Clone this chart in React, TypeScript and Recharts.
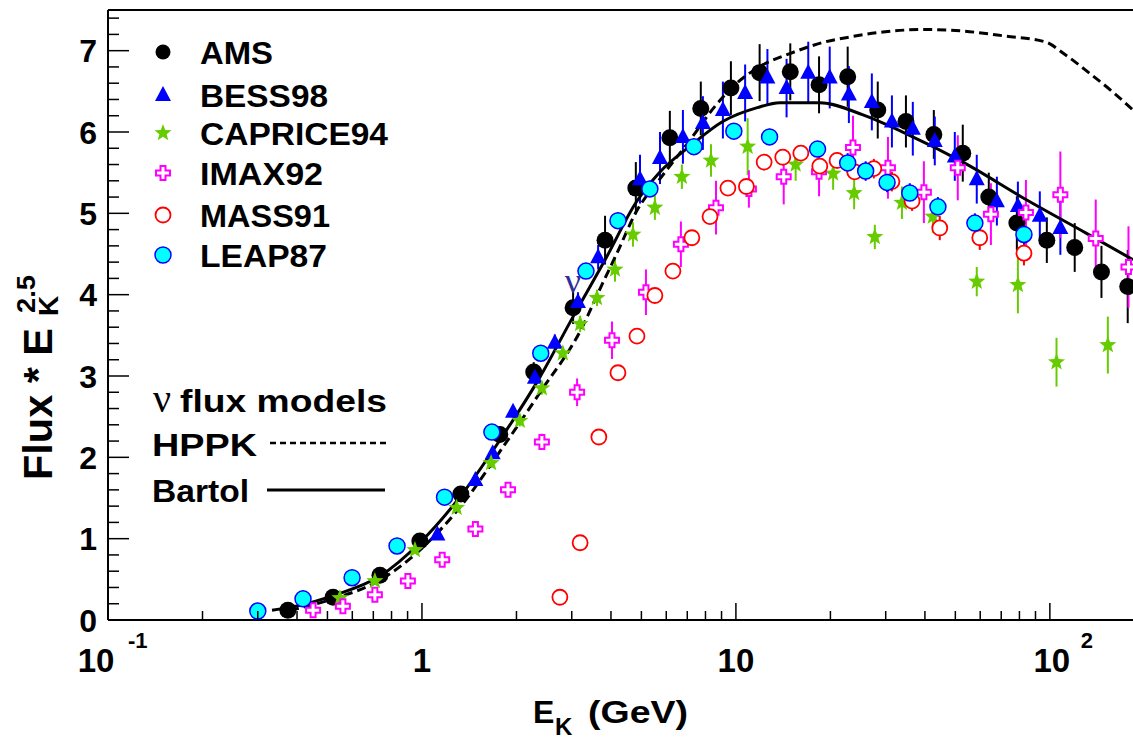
import { ComposedChart, Scatter, Line, XAxis, YAxis, ErrorBar, ReferenceLine } from 'recharts'

// kinetic energy (GeV) and flux * E^2.5 for each experiment
const AMS_E = [0.374, 0.521, 0.735, 0.985, 1.33, 1.77, 2.27, 3.03, 3.83, 4.8, 6.16, 7.73, 9.64, 11.9, 14.9, 18.4, 22.7, 28.3, 34.8, 42.7, 52.8, 63.9, 78.5, 97.8, 120, 146, 177]
const AMS_F = [0.12, 0.28, 0.55, 0.97, 1.55, 2.28, 3.05, 3.84, 4.67, 5.31, 5.93, 6.29, 6.54, 6.73, 6.74, 6.58, 6.68, 6.27, 6.13, 5.97, 5.74, 5.2, 4.88, 4.67, 4.58, 4.28, 4.1]
const AMS_ERR = [0.03, 0.04, 0.05, 0.06, 0.08, 0.1, 0.12, 0.2, 0.3, 0.32, 0.33, 0.33, 0.33, 0.35, 0.35, 0.35, 0.37, 0.35, 0.32, 0.3, 0.35, 0.3, 0.33, 0.28, 0.3, 0.32, 0.45]

const BESS_E = [1.12, 1.48, 1.68, 1.95, 2.29, 2.65, 3.14, 3.64, 4.95, 5.73, 6.78, 7.85, 9.09, 10.7, 12.6, 14.5, 17.0, 19.9, 22.9, 27.1, 31.4, 36.6, 43.0, 49.8, 58.5, 67.8, 79.1, 92.9, 108]
const BESS_F = [1.05, 1.72, 2.05, 2.56, 2.98, 3.41, 3.91, 4.46, 5.42, 5.68, 5.94, 6.11, 6.27, 6.48, 6.67, 6.54, 6.73, 6.67, 6.46, 6.37, 6.13, 6.04, 5.89, 5.7, 5.42, 5.15, 5.09, 4.97, 4.82]
const BESS_ERR = [0.03, 0.05, 0.06, 0.07, 0.08, 0.1, 0.12, 0.15, 0.3, 0.32, 0.33, 0.33, 0.35, 0.35, 0.35, 0.36, 0.38, 0.38, 0.35, 0.35, 0.32, 0.33, 0.3, 0.3, 0.3, 0.3, 0.3, 0.3, 0.33]

const CAPRICE_E = [0.548, 0.708, 0.95, 1.29, 1.66, 2.05, 2.41, 2.81, 3.19, 3.61, 4.12, 4.7, 5.52, 6.73, 8.33, 10.9, 15.5, 20.4, 23.8, 27.7, 33.8, 42.4, 58.5, 79.1, 105, 153]
const CAPRICE_F = [0.27, 0.48, 0.86, 1.38, 1.93, 2.45, 2.85, 3.28, 3.64, 3.96, 4.31, 4.74, 5.07, 5.45, 5.65, 5.82, 5.6, 5.49, 5.25, 4.71, 5.13, 4.96, 4.16, 4.12, 3.17, 3.38]
const CAPRICE_ERR = [0.02, 0.03, 0.04, 0.05, 0.06, 0.07, 0.08, 0.08, 0.1, 0.1, 0.15, 0.15, 0.15, 0.15, 0.2, 0.35, 0.2, 0.2, 0.2, 0.15, 0.2, 0.2, 0.18, 0.35, 0.3, 0.35]

const IMAX_E = [0.45, 0.56, 0.708, 0.902, 1.16, 1.48, 1.88, 2.41, 3.12, 4.03, 5.17, 6.68, 8.64, 11.0, 14.2, 18.4, 23.6, 30.5, 39.7, 50.9, 64.9, 83.9, 108, 140, 178]
const IMAX_F = [0.12, 0.17, 0.31, 0.48, 0.74, 1.12, 1.6, 2.19, 2.8, 3.44, 4.03, 4.62, 5.07, 5.3, 5.45, 5.51, 5.81, 5.56, 5.26, 5.56, 4.99, 5.01, 5.23, 4.69, 4.34]
const IMAX_ERR = [0.02, 0.02, 0.03, 0.03, 0.04, 0.05, 0.06, 0.1, 0.17, 0.23, 0.28, 0.28, 0.33, 0.23, 0.34, 0.3, 0.39, 0.38, 0.38, 0.4, 0.38, 0.4, 0.53, 0.48, 0.5]

const MASS_E = [2.75, 3.19, 3.66, 4.21, 4.84, 5.52, 6.3, 7.24, 8.27, 9.43, 10.8, 12.3, 14.1, 16.1, 18.5, 21.0, 23.9, 27.5, 31.4, 36.4, 44.6, 59.8, 82.7]
const MASS_F = [0.28, 0.95, 2.25, 3.04, 3.49, 3.99, 4.29, 4.7, 4.96, 5.31, 5.33, 5.63, 5.69, 5.74, 5.58, 5.65, 5.51, 5.55, 5.39, 5.15, 4.82, 4.7, 4.51]
const MASS_ERR = [0.03, 0.04, 0.05, 0.06, 0.06, 0.07, 0.07, 0.08, 0.08, 0.08, 0.08, 0.1, 0.1, 0.1, 0.1, 0.1, 0.1, 0.12, 0.12, 0.12, 0.15, 0.15, 0.15]

const LEAP_E = [0.3, 0.418, 0.599, 0.833, 1.18, 1.67, 2.39, 3.33, 4.21, 5.32, 7.35, 9.85, 12.8, 18.2, 22.7, 25.9, 30.3, 35.8, 44.0, 57.7, 82.7]
const LEAP_F = [0.11, 0.26, 0.52, 0.91, 1.51, 2.31, 3.28, 4.29, 4.91, 5.3, 5.82, 6.01, 5.94, 5.79, 5.62, 5.52, 5.38, 5.25, 5.08, 4.88, 4.74]
const LEAP_ERR = [0.02, 0.02, 0.03, 0.03, 0.04, 0.05, 0.06, 0.08, 0.1, 0.1, 0.1, 0.1, 0.1, 0.1, 0.12, 0.12, 0.12, 0.12, 0.12, 0.12, 0.12]

// model curves
const BARTOL_E = [0.333, 0.408, 0.521, 0.735, 0.985, 1.32, 1.77, 2.37, 3.03, 3.87, 4.8, 5.7, 7.11, 9.08, 11.7, 13.8, 18.5, 25.4, 34.4, 53.4, 83.9, 130, 184]
const BARTOL_F = [0.12, 0.18, 0.3, 0.54, 0.95, 1.51, 2.21, 2.98, 3.73, 4.46, 5.13, 5.5, 5.82, 6.13, 6.3, 6.36, 6.36, 6.21, 5.99, 5.62, 5.17, 4.76, 4.43]
const HPPK_E = [0.38, 0.521, 0.735, 0.985, 1.33, 1.77, 2.38, 3.21, 3.72, 4.18, 4.8, 5.77, 7.14, 8.51, 10.0, 11.75, 15.0, 18.9, 23.2, 29.4, 39.7, 53.2, 71.9, 96.4, 112, 133, 160, 184]
const HPPK_F = [0.12, 0.26, 0.49, 0.86, 1.4, 2.07, 2.8, 3.57, 4.1, 4.51, 5.01, 5.44, 5.9, 6.3, 6.59, 6.79, 6.97, 7.1, 7.17, 7.23, 7.26, 7.24, 7.18, 7.11, 6.95, 6.73, 6.48, 6.27]

const X_MAJOR = [0.1, 1, 10, 100]
const X_MAX = 184
const Y_MAX = 7.5

const FONT = '"Liberation Sans", Arial, sans-serif'
const GREEN = '#66cc00'
const MAGENTA = '#ff00ff'
const BLUE = '#0000ff'
const RED = '#ff0000'

const pts = (e: number[], f: number[], err?: number[]) =>
  e.map((v, i) => ({ e: v, f: f[i], err: err ? err[i] : 0 }))

const xTicks = X_MAJOR.flatMap((d) => [1, 2, 3, 4, 5, 6, 7, 8, 9].map((m) => +(m * d).toPrecision(3))).filter((v) => v <= X_MAX)
const yTicks = Array.from({ length: 38 }, (_, i) => +(i * 0.2).toFixed(1))

function XTick(props: any) {
  const { x, y, payload } = props
  const v = payload.value
  const major = X_MAJOR.some((m) => Math.abs(m - v) < 1e-9)
  let label = null
  if (v === 0.1) {
    label = (
      <g>
        <text x={x - 12} y={y + 52} textAnchor="middle" fontSize={33}>10</text>
        <text x={x + 20} y={y + 28} fontSize={22}>-1</text>
      </g>
    )
  } else if (v === 1 || v === 10) {
    label = <text x={x} y={y + 52} textAnchor="middle" fontSize={33}>{v}</text>
  } else if (v === 100) {
    label = (
      <g>
        <text x={x + 2} y={y + 52} textAnchor="middle" fontSize={33}>10</text>
        <text x={x + 31} y={y + 28} fontSize={22}>2</text>
      </g>
    )
  }
  return (
    <g fontFamily={FONT} fontWeight="bold" fill="#000">
      <line x1={x} x2={x} y1={y} y2={y - (major ? 17 : 9)} stroke="#000" strokeWidth={1.5} />
      {label}
    </g>
  )
}

function YTick(props: any) {
  const { x, y, payload } = props
  const v = payload.value
  const major = Math.abs(v - Math.round(v)) < 1e-6
  return (
    <g fontFamily={FONT} fontWeight="bold" fill="#000">
      <line x1={x} x2={x + (major ? 21 : 11)} y1={y} y2={y} stroke="#000" strokeWidth={1.5} />
      {major && (
        <text x={x - 11} y={y + 11.5} textAnchor="end" fontSize={32}>{Math.round(v)}</text>
      )}
    </g>
  )
}

const starPoints = (cx: number, cy: number, ro: number, ri: number) =>
  Array.from({ length: 10 }, (_, i) => {
    const a = -Math.PI / 2 + (i * Math.PI) / 5
    const r = i % 2 === 0 ? ro : ri
    return `${cx + r * Math.cos(a)},${cy + r * Math.sin(a)}`
  }).join(' ')

const crossPoints = (cx: number, cy: number, a: number, w: number) =>
  [[-w, -a], [w, -a], [w, -w], [a, -w], [a, w], [w, w], [w, a], [-w, a], [-w, w], [-a, w], [-a, -w], [-w, -w]]
    .map(([dx, dy]) => `${cx + dx},${cy + dy}`)
    .join(' ')

const AmsMark = ({ cx, cy, r = 8.5 }: any) => <circle cx={cx} cy={cy} r={r} fill="#000" />
const BessMark = ({ cx, cy }: any) => (
  <polygon points={`${cx},${cy - 9} ${cx - 8},${cy + 6} ${cx + 8},${cy + 6}`} fill={BLUE} />
)
const CapriceMark = ({ cx, cy }: any) => <polygon points={starPoints(cx, cy, 9, 3.8)} fill={GREEN} />
const ImaxMark = ({ cx, cy }: any) => (
  <polygon points={crossPoints(cx, cy, 7, 2.5)} fill="#fff" stroke={MAGENTA} strokeWidth={2} />
)
const MassMark = ({ cx, cy }: any) => <circle cx={cx} cy={cy} r={7.5} fill="#fff" stroke={RED} strokeWidth={1.8} />
const LeapMark = ({ cx, cy }: any) => <circle cx={cx} cy={cy} r={8} fill="#00ffff" stroke={BLUE} strokeWidth={1.5} />
const NoMark = () => <g />

const LEGEND = [
  { name: 'AMS', y: 52, w: 73, Mark: AmsMark },
  { name: 'BESS98', y: 95, w: 128, Mark: BessMark },
  { name: 'CAPRICE94', y: 133, w: 188, Mark: CapriceMark },
  { name: 'IMAX92', y: 173, w: 123, Mark: ImaxMark },
  { name: 'MASS91', y: 215, w: 130, Mark: MassMark },
  { name: 'LEAP87', y: 255, w: 127, Mark: LeapMark },
]

function Overlay() {
  return (
    <svg
      width={1133}
      height={739}
      style={{ position: 'absolute', left: 0, top: 0, pointerEvents: 'none' }}
      fontFamily={FONT}
      fontWeight="bold"
    >
      {LEGEND.map(({ name, y, w, Mark }) => (
        <g key={name}>
          <Mark cx={163} cy={y} r={7.5} />
          <text x={200} y={y + 11.5} fontSize={32} textLength={w} lengthAdjust="spacingAndGlyphs">{name}</text>
        </g>
      ))}

      <text x={153} y={412} fontFamily='"Liberation Serif", serif' fontWeight="normal" fontSize={40}>ν</text>
      <text x={180} y={412} fontSize={31} textLength={207} lengthAdjust="spacingAndGlyphs">flux models</text>
      <text x={152} y={456} fontSize={32} textLength={105} lengthAdjust="spacingAndGlyphs">HPPK</text>
      <line x1={270} x2={388} y1={443} y2={443} stroke="#000" strokeWidth={2.5} strokeDasharray="6 4" />
      <text x={152} y={502} fontSize={32} textLength={97} lengthAdjust="spacingAndGlyphs">Bartol</text>
      <line x1={267} x2={385} y1={490} y2={490} stroke="#000" strokeWidth={3} />

      <text x={573} y={293} textAnchor="middle" fontFamily='"Liberation Serif", serif' fontWeight="normal" fontSize={36} fill="#2e2e9a">ν</text>

      <text transform="translate(52,480) rotate(-90)" fontSize={40} textLength={152} lengthAdjust="spacingAndGlyphs">Flux * E</text>
      <text transform="translate(58,316) rotate(-90)" fontSize={28}>K</text>
      <text transform="translate(35,313) rotate(-90)" fontSize={26} textLength={38} lengthAdjust="spacingAndGlyphs">2.5</text>

      <text x={533} y={723} fontSize={32}>E</text>
      <text x={555} y={735} fontSize={24}>K</text>
      <text x={588} y={723} fontSize={32} textLength={100} lengthAdjust="spacingAndGlyphs">(GeV)</text>
    </svg>
  )
}

export default function App() {
  const ams = pts(AMS_E, AMS_F, AMS_ERR)
  const bess = pts(BESS_E, BESS_F, BESS_ERR)
  const caprice = pts(CAPRICE_E, CAPRICE_F, CAPRICE_ERR)
  const imax = pts(IMAX_E, IMAX_F, IMAX_ERR)
  const mass = pts(MASS_E, MASS_F, MASS_ERR)
  const leap = pts(LEAP_E, LEAP_F, LEAP_ERR)

  return (
    <div style={{ position: 'absolute', left: 0, top: 0, width: 1133, height: 739, background: '#fff' }}>
      <ComposedChart width={1133} height={739} margin={{ top: 10, right: 0, bottom: 0, left: 0 }}>
        <XAxis
          dataKey="e"
          type="number"
          scale="log"
          domain={[0.1, X_MAX]}
          allowDataOverflow
          ticks={xTicks}
          interval={0}
          height={119}
          tickSize={0}
          tickMargin={0}
          tickLine={false}
          axisLine={{ stroke: '#000', strokeWidth: 2 }}
          tick={(p: any) => <XTick {...p} />}
        />
        <YAxis
          dataKey="f"
          type="number"
          domain={[0, Y_MAX]}
          allowDataOverflow
          ticks={yTicks}
          interval={0}
          width={108}
          tickSize={0}
          tickMargin={0}
          tickLine={false}
          axisLine={{ stroke: '#000', strokeWidth: 2 }}
          tick={(p: any) => <YTick {...p} />}
        />
        <ReferenceLine y={Y_MAX} stroke="#000" strokeWidth={2} />

        {/* error bars first, markers drawn on top so bars stop at the marker edge */}
        <Scatter data={ams} dataKey="f" isAnimationActive={false} shape={NoMark}>
          <ErrorBar dataKey="err" direction="y" width={0} stroke="#000" strokeWidth={2} isAnimationActive={false} />
        </Scatter>
        <Scatter data={ams} dataKey="f" isAnimationActive={false} shape={(p: any) => <AmsMark cx={p.cx} cy={p.cy} />} />

        <Scatter data={bess} dataKey="f" isAnimationActive={false} shape={NoMark}>
          <ErrorBar dataKey="err" direction="y" width={0} stroke={BLUE} strokeWidth={2} isAnimationActive={false} />
        </Scatter>
        <Scatter data={bess} dataKey="f" isAnimationActive={false} shape={(p: any) => <BessMark cx={p.cx} cy={p.cy} />} />

        <Scatter data={caprice} dataKey="f" isAnimationActive={false} shape={NoMark}>
          <ErrorBar dataKey="err" direction="y" width={0} stroke={GREEN} strokeWidth={2} isAnimationActive={false} />
        </Scatter>
        <Scatter data={caprice} dataKey="f" isAnimationActive={false} shape={(p: any) => <CapriceMark cx={p.cx} cy={p.cy} />} />

        <Scatter data={imax} dataKey="f" isAnimationActive={false} shape={NoMark}>
          <ErrorBar dataKey="err" direction="y" width={0} stroke={MAGENTA} strokeWidth={2} isAnimationActive={false} />
        </Scatter>
        <Scatter data={imax} dataKey="f" isAnimationActive={false} shape={(p: any) => <ImaxMark cx={p.cx} cy={p.cy} />} />

        <Scatter data={mass} dataKey="f" isAnimationActive={false} shape={NoMark}>
          <ErrorBar dataKey="err" direction="y" width={0} stroke={RED} strokeWidth={2} isAnimationActive={false} />
        </Scatter>
        <Scatter data={mass} dataKey="f" isAnimationActive={false} shape={(p: any) => <MassMark cx={p.cx} cy={p.cy} />} />

        <Scatter data={leap} dataKey="f" isAnimationActive={false} shape={NoMark}>
          <ErrorBar dataKey="err" direction="y" width={0} stroke={BLUE} strokeWidth={2} isAnimationActive={false} />
        </Scatter>
        <Scatter data={leap} dataKey="f" isAnimationActive={false} shape={(p: any) => <LeapMark cx={p.cx} cy={p.cy} />} />

        <Line data={pts(HPPK_E, HPPK_F)} dataKey="f" type="monotone" stroke="#000" strokeWidth={3} strokeDasharray="9 5" dot={false} activeDot={false} isAnimationActive={false} />
        <Line data={pts(BARTOL_E, BARTOL_F)} dataKey="f" type="monotone" stroke="#000" strokeWidth={3} dot={false} activeDot={false} isAnimationActive={false} />
      </ComposedChart>
      <Overlay />
    </div>
  )
}
